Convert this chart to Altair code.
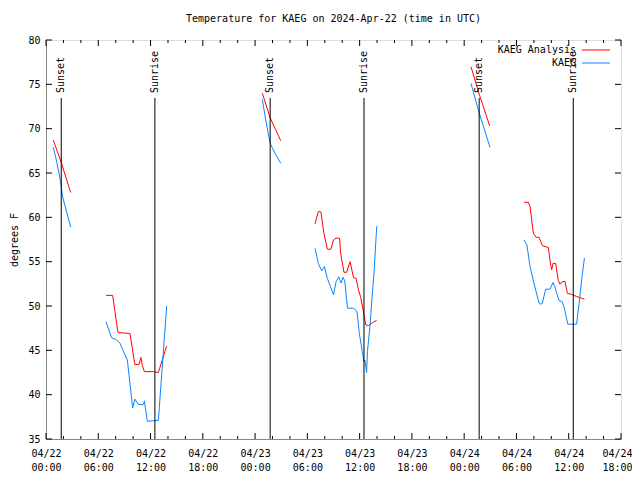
import altair as alt
import pandas as pd

# ---- data (hours since 2024-04-22 00:00 UTC, temperature in F) ----
an_segments = [
    [(0.84, 68.7), (1.78, 66.1), (2.83, 62.8)],
    [(6.89, 51.2), (7.65, 51.2), (8.26, 47.0), (9.64, 46.9), (10.2, 43.4), (10.67, 43.4),
     (10.9, 44.2), (11.05, 43.3), (11.29, 42.6), (12.32, 42.6), (12.9, 42.5), (13.85, 45.5)],
    [(24.83, 74.0), (25.74, 71.2), (26.94, 68.65)],
    [(30.88, 59.26), (31.26, 60.65), (31.56, 60.6), (31.9, 58.2), (32.3, 56.4), (32.7, 56.4),
     (33.0, 57.45), (33.3, 57.65), (33.7, 57.65), (33.8, 56.1), (34.2, 53.8), (34.5, 53.8),
     (34.9, 55.0), (35.3, 53.2), (35.6, 53.1), (35.85, 51.9), (36.1, 51.07), (36.4, 49.56),
     (36.7, 47.87), (37.0, 47.8), (37.4, 48.06), (37.96, 48.4)],
    [(48.78, 77.0), (49.72, 73.9), (50.93, 70.3)],
    [(54.87, 61.7), (55.36, 61.7), (55.56, 61.2), (55.94, 58.2), (56.25, 57.75), (56.6, 57.75),
     (56.97, 56.8), (57.66, 56.6), (57.93, 54.6), (58.05, 54.1), (58.2, 54.8), (58.5, 54.8),
     (58.8, 52.9), (59.0, 52.45), (59.2, 52.7), (59.57, 52.8), (59.84, 51.44), (60.34, 51.3),
     (60.9, 51.07), (61.8, 50.77)],
]
ob_segments = [
    [(0.84, 67.9), (1.25, 66.2), (1.68, 64.0), (1.91, 62.3), (2.83, 58.9)],
    [(6.89, 48.2), (7.54, 46.4), (8.11, 46.2), (8.5, 45.8), (8.88, 44.9), (9.34, 43.9),
     (9.95, 38.5), (10.2, 39.5), (10.6, 38.9), (11.2, 38.9), (11.29, 39.3), (11.63, 37.0),
     (12.9, 37.1), (13.85, 50.0)],
    [(24.83, 73.3), (25.25, 70.8), (25.74, 68.3), (26.3, 67.2), (26.94, 66.1)],
    [(30.88, 56.5), (31.26, 54.8), (31.64, 53.96), (31.95, 54.45), (32.3, 53.1), (32.65, 52.2),
     (33.0, 51.25), (33.3, 52.75), (33.6, 53.3), (33.86, 52.6), (34.1, 53.25), (34.3, 52.8),
     (34.6, 49.75), (35.3, 49.75), (35.7, 49.4), (35.96, 46.93), (36.3, 44.9), (36.5, 43.7),
     (36.6, 43.9), (36.8, 42.5), (36.9, 44.9), (37.2, 47.87), (37.4, 50.7), (37.65, 53.7),
     (37.96, 59.0)],
    [(48.78, 75.1), (49.72, 71.8), (50.96, 67.9)],
    [(54.87, 57.45), (55.2, 56.9), (55.56, 54.45), (56.0, 52.6), (56.6, 50.3), (56.7, 50.2),
     (56.97, 50.3), (57.35, 51.9), (57.85, 51.9), (58.2, 52.65), (58.4, 52.2), (58.6, 51.5),
     (58.9, 50.6), (59.25, 50.5), (59.5, 49.75), (59.7, 48.8), (59.9, 47.95), (60.9, 47.95),
     (61.18, 50.2), (61.5, 53.1), (61.8, 55.4)],
]
sun_hours = [1.75, 12.5, 25.73, 36.5, 49.72, 60.52]
sun_labels = ["Sunset", "Sunrise", "Sunset", "Sunrise", "Sunset", "Sunrise"]
y_ticks = [35, 40, 45, 50, 55, 60, 65, 70, 75, 80]
x_major = list(range(0, 67, 6))
x_minor = [h for h in range(0, 67, 2) if h % 6 != 0]
series_names = ["KAEG Analysis", "KAEG"]
series_colors = ["#ff0000", "#0a84ff"]

rows = []
for name, segs in zip(series_names, [an_segments, ob_segments]):
    for i, seg in enumerate(segs):
        for h, t in seg:
            rows.append({"series": name, "seg": f"{name}-{i}", "hour": h, "temp": t})
df = pd.DataFrame(rows)

W, H = 575, 399
FONT = "DejaVu Sans Mono"

xs = alt.Scale(domain=[0, 66], nice=False, zero=False)
ys = alt.Scale(domain=[35, 80], nice=False, zero=False)

label_expr = ("['04/' + (22 + floor(datum.value/24)), "
              "((datum.value % 24) < 10 ? '0' : '') + (datum.value % 24) + ':00']")

x_axis = alt.Axis(values=x_major, labelExpr=label_expr, ticks=False, grid=False,
                  title=None, labelPadding=9, labelLineHeight=14,
                  labelFlush=False, labelOverlap=False, labelFont=FONT, labelFontSize=10,
                  labelOffset={"expr": "datum.value == 66 ? -4 : 0"})
y_axis = alt.Axis(values=y_ticks, ticks=False, grid=False, title="degrees F",
                  labelPadding=6, titleAngle=270, titleX=-32, titleY=H / 2,
                  titleAlign="center", titleBaseline="middle", labelFont=FONT,
                  labelFontSize=10, titleFont=FONT, titleFontSize=10,
                  titleFontWeight="normal")


def X(field):
    return alt.X(field, scale=xs, axis=x_axis, title=None)


def Y(field):
    return alt.Y(field, scale=ys, axis=y_axis, title="degrees F")


lines = alt.Chart(df).mark_line(strokeWidth=1, clip=True).encode(
    x=X("hour:Q"),
    y=Y("temp:Q"),
    color=alt.Color("series:N", scale=alt.Scale(domain=series_names, range=series_colors),
                    legend=None),
    detail="seg:N",
)

sun_df = pd.DataFrame({"hour": sun_hours, "label": sun_labels})
sun_rules = alt.Chart(sun_df).mark_rule(color="black", strokeWidth=1).encode(
    x=X("hour:Q"),
    y=alt.value(58), y2=alt.value(H),
)
sun_text = alt.Chart(sun_df).mark_text(angle=270, align="left", baseline="middle",
                                       font=FONT, fontSize=10, color="black").encode(
    x=X("hour:Q"),
    y=alt.value(53),
    text="label:N",
)

ytdf = pd.DataFrame({"v": y_ticks})
ytick_l = alt.Chart(ytdf).mark_rule(color="black").encode(
    y=Y("v:Q"), x=alt.value(0), x2=alt.value(6))
ytick_r = alt.Chart(ytdf).mark_rule(color="black").encode(
    y=Y("v:Q"), x=alt.value(W), x2=alt.value(W - 6))

xmaj = pd.DataFrame({"v": x_major})
xmin = pd.DataFrame({"v": x_minor})
xt = []
for d, ln in [(xmaj, 6), (xmin, 3)]:
    xt.append(alt.Chart(d).mark_rule(color="black").encode(
        x=X("v:Q"), y=alt.value(H), y2=alt.value(H - ln)))
    xt.append(alt.Chart(d).mark_rule(color="black").encode(
        x=X("v:Q"), y=alt.value(0), y2=alt.value(ln)))

leg_df = pd.DataFrame({"series": series_names, "color": series_colors})
leg_layers = []
for i, (name, col) in enumerate(zip(series_names, series_colors)):
    d = leg_df[leg_df.series == name]
    yy = 10 + 13 * i
    leg_layers.append(alt.Chart(d).mark_text(align="right", baseline="middle", font=FONT,
                                             fontSize=10, color="black").encode(
        x=alt.value(530), y=alt.value(yy), text="series:N"))
    leg_layers.append(alt.Chart(d).mark_rule(color=col, strokeWidth=1).encode(
        x=alt.value(536), x2=alt.value(564), y=alt.value(yy)))

chart = alt.layer(lines, sun_rules, sun_text, ytick_l, ytick_r, *xt, *leg_layers).properties(
    width=W, height=H,
    title=alt.TitleParams("Temperature for KAEG on 2024-Apr-22 (time in UTC)", font=FONT,
                          fontSize=10, fontWeight="normal", anchor="middle", offset=11,
                          color="black"),
    autosize=alt.AutoSizeParams(type="none"),
    padding={"left": 38, "top": 32, "right": 11, "bottom": 40},
).configure_view(stroke="black", strokeWidth=1).configure_axis(
    labelFont=FONT, labelFontSize=10, labelColor="black", titleFont=FONT, titleFontSize=10,
    titleFontWeight="normal", titleColor="black", domainColor="black", domainWidth=1,
).configure(background="white")

chart.save("out.html", embed_options={"renderer": "svg", "actions": False})
